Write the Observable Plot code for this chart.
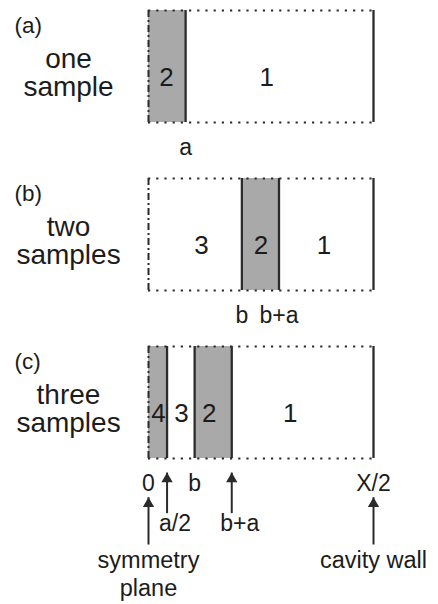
<!DOCTYPE html>
<html>
<head>
<meta charset="utf-8">
<script src="https://cdn.jsdelivr.net/npm/d3@7"></script>
<script src="https://cdn.jsdelivr.net/npm/@observablehq/plot@0.6"></script>
<style>
  html, body { margin: 0; padding: 0; background: #fff; }
  #chart svg { display: block; }
</style>
</head>
<body>
<div id="chart"></div>
<script>
// ---- schematic values (units: X/2 = 100) ----
const panels = ["(a)", "(b)", "(c)"];
const sideLabels = ["one\nsample", "two\nsamples", "three\nsamples"];
const X2 = 100;       // cavity half width
const a = 16.5;       // sample thickness
const bTwo = 41.5;    // gap position b, two samples
const bThree = 20.5;  // gap position b, three samples

// regions: panel, from, to, number, sample or air, where its number is written
const regionPanel = ["(a)", "(a)", "(b)", "(b)", "(b)", "(c)", "(c)", "(c)", "(c)"];
const regionFrom  = [0, a, 0, bTwo, bTwo + a, 0, a / 2, bThree, bThree + a];
const regionTo    = [a, X2, bTwo, bTwo + a, X2, a / 2, bThree, bThree + a, X2];
const regionNum   = ["2", "1", "3", "2", "1", "4", "3", "2", "1"];
const regionGray  = [true, false, false, true, false, true, false, true, false];
const regionNumAt = [8, 52.5, 23.5, 50, 78, 4.4, 14.7, 27, 63];

// solid walls
const wallPanel = ["(a)", "(a)", "(b)", "(b)", "(b)", "(c)", "(c)", "(c)", "(c)"];
const wallX     = [a, X2, bTwo, bTwo + a, X2, a / 2, bThree, bThree + a, X2];

// position labels directly under boxes
const posPanel = ["(a)", "(b)", "(b)", "(c)", "(c)", "(c)"];
const posX     = [a, bTwo, bTwo + a, 0, bThree, X2];
const posText  = ["a", "b", "b+a", "0", "b", "X/2"];

// second row labels (panel c)
const row2X    = [a / 2, bThree + a];
const row2Text = ["a/2", "b+a"];

// arrows (panel c)
const shortArrowX = [a / 2, bThree + a];
const longArrowX  = [0, X2];
const captionX    = [0, X2];
const captionText = ["symmetry\nplane", "cavity wall"];

// layout rows in y units below each box (box spans 0..1)
const ROW1 = -0.22, SHORT_TIP = -0.13, SHORT_BASE = -0.43;
const LONG_TIP = -0.35, LONG_BASE = -0.71, ROW2 = -0.58, CAPTION = -0.8;

// ---- tables ----
const regions = regionPanel.map((p, i) => ({panel: p, x1: regionFrom[i], x2: regionTo[i], num: regionNum[i], gray: regionGray[i], at: regionNumAt[i]}));
const walls = wallPanel.map((p, i) => ({panel: p, x: wallX[i]}));
const posLabels = posPanel.map((p, i) => ({panel: p, x: posX[i], text: posText[i]}));
const frames = panels.map((p, i) => ({panel: p, side: sideLabels[i]}));
const row2 = row2X.map((x, i) => ({panel: "(c)", x, text: row2Text[i]}));
const shortArrows = shortArrowX.map(x => ({panel: "(c)", x}));
const longArrows = longArrowX.map(x => ({panel: "(c)", x}));
const captions = captionX.map((x, i) => ({panel: "(c)", x, text: captionText[i]}));

const INK = "#2b2b2b";
const TEXT = "#1c1c1c";
const GRAY = "#a9a9a9";

const chart = Plot.plot({
  width: 438,
  height: 604,
  marginLeft: 148,
  marginRight: 65,
  marginTop: 10,
  marginBottom: 146,
  x: {domain: [0, X2], axis: null},
  y: {domain: [0, 1], axis: null},
  fy: {domain: panels, axis: null, paddingInner: 1 / 3, paddingOuter: 0},
  style: {fontFamily: "'Liberation Sans', Arial, sans-serif", color: TEXT, background: "#fff", overflow: "visible"},
  marks: [
    // gray sample regions
    Plot.rect(regions.filter(d => d.gray), {fy: "panel", x1: "x1", x2: "x2", y1: 0, y2: 1, fill: GRAY}),
    // dotted top and bottom edges
    Plot.ruleY(frames, {fy: "panel", y: 1, x1: 0, x2: X2, stroke: INK, strokeWidth: 2.2, strokeDasharray: "2.2,6"}),
    Plot.ruleY(frames, {fy: "panel", y: 0, x1: 0, x2: X2, stroke: INK, strokeWidth: 2.2, strokeDasharray: "2.2,6"}),
    // dash-dot symmetry plane
    Plot.ruleX(frames, {fy: "panel", x: 0, y1: 0, y2: 1, stroke: INK, strokeWidth: 2, strokeDasharray: "7,3,2,3"}),
    // solid walls
    Plot.ruleX(walls, {fy: "panel", x: "x", y1: 0, y2: 1, stroke: INK, strokeWidth: 2.3}),
    // region numbers
    Plot.text(regions, {fy: "panel", x: "at", y: 0.4, text: "num", fontSize: 26, fill: TEXT}),
    // panel tags
    Plot.text(frames, {fy: "panel", text: "panel", frameAnchor: "top-left", dx: -134, dy: 7, textAnchor: "start", fontSize: 22.5, fill: TEXT}),
    // side labels
    Plot.text(frames, {fy: "panel", text: "side", y: 0.44, frameAnchor: "left", dx: -80, textAnchor: "middle", fontSize: 28, lineHeight: 1.0, fill: TEXT}),
    // position labels
    Plot.text(posLabels, {fy: "panel", x: "x", y: ROW1, text: "text", fontSize: 23, fill: TEXT}),
    Plot.text(row2, {fy: "panel", x: "x", y: ROW2, text: "text", dx: 8, fontSize: 23, fill: TEXT}),
    // arrows
    Plot.ruleX(shortArrows, {fy: "panel", x: "x", y1: SHORT_BASE, y2: SHORT_TIP, stroke: INK, strokeWidth: 2, insetTop: 7}),
    Plot.dot(shortArrows, {fy: "panel", x: "x", y: SHORT_TIP, symbol: "triangle", r: 4.2, fill: INK, dy: 6}),
    Plot.ruleX(longArrows, {fy: "panel", x: "x", y1: LONG_BASE, y2: LONG_TIP, stroke: INK, strokeWidth: 2, insetTop: 7}),
    Plot.dot(longArrows, {fy: "panel", x: "x", y: LONG_TIP, symbol: "triangle", r: 4.2, fill: INK, dy: 6}),
    // captions
    Plot.text(captions, {fy: "panel", x: "x", y: CAPTION, text: "text", lineAnchor: "top", fontSize: 23.5, lineHeight: 1.2, fill: TEXT})
  ]
});
document.getElementById("chart").appendChild(chart);
</script>
</body>
</html>
